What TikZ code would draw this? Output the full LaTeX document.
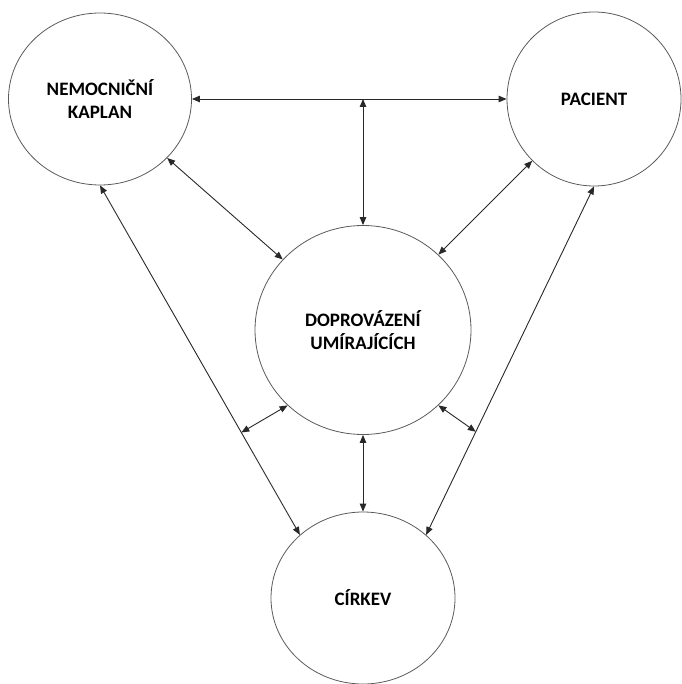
\documentclass[tikz,border=0pt]{standalone}
\usepackage{fontspec}
\setmainfont{Carlito}
\usepackage{tikz}
\usetikzlibrary{shapes.geometric, arrows.meta}
\definecolor{dark}{RGB}{40,40,40}
\definecolor{rim}{RGB}{90,90,90}
\tikzset{
    topic/.style={ellipse, draw=rim, line width=0.8pt, inner sep=0pt, text centered, align=center, font=\bfseries\fontsize{19}{23.5}\selectfont},
    arrow/.style={{Triangle[length=8pt,width=6.5pt]}-{Triangle[length=8pt,width=6.5pt]}, line width=0.9pt, color=dark}
}
\begin{document}
\begin{tikzpicture}[x=1pt, y=-1pt]
    \useasboundingbox (0,0) rectangle (681,684);
    % Circles
    \node[topic, minimum width=183pt, minimum height=172pt] (kaplan) at (100,99) {NEMOCNIČNÍ\\KAPLAN};
    \node[topic, minimum width=174pt, minimum height=174pt] (pacient) at (594,99) {PACIENT};
    \node[topic, minimum width=216pt, minimum height=209pt] (dopr) at (363,330) {DOPROVÁZENÍ\\UMÍRAJÍCÍCH};
    \node[topic, minimum width=184pt, minimum height=172pt] (cirkev) at (363,598) {CÍRKEV};

    % Links
    \draw[arrow] (kaplan.east) -- (pacient.west);
    \coordinate (mid) at (kaplan.east -| dopr.north);
    \draw[arrow] (mid) -- (dopr.north);
    \draw[arrow] (kaplan) -- (dopr);
    \draw[arrow] (pacient) -- (dopr);
    \draw[arrow] (kaplan.south) -- coordinate[pos=0.707] (lk) (cirkev.135);
    \draw[arrow] (pacient.south) -- coordinate[pos=0.704] (rk) (cirkev.45);
    \draw[arrow] (dopr.225) -- (lk);
    \draw[arrow] (dopr.315) -- (rk);
    \draw[arrow] (dopr.south) -- (cirkev.north);
\end{tikzpicture}
\end{document}
